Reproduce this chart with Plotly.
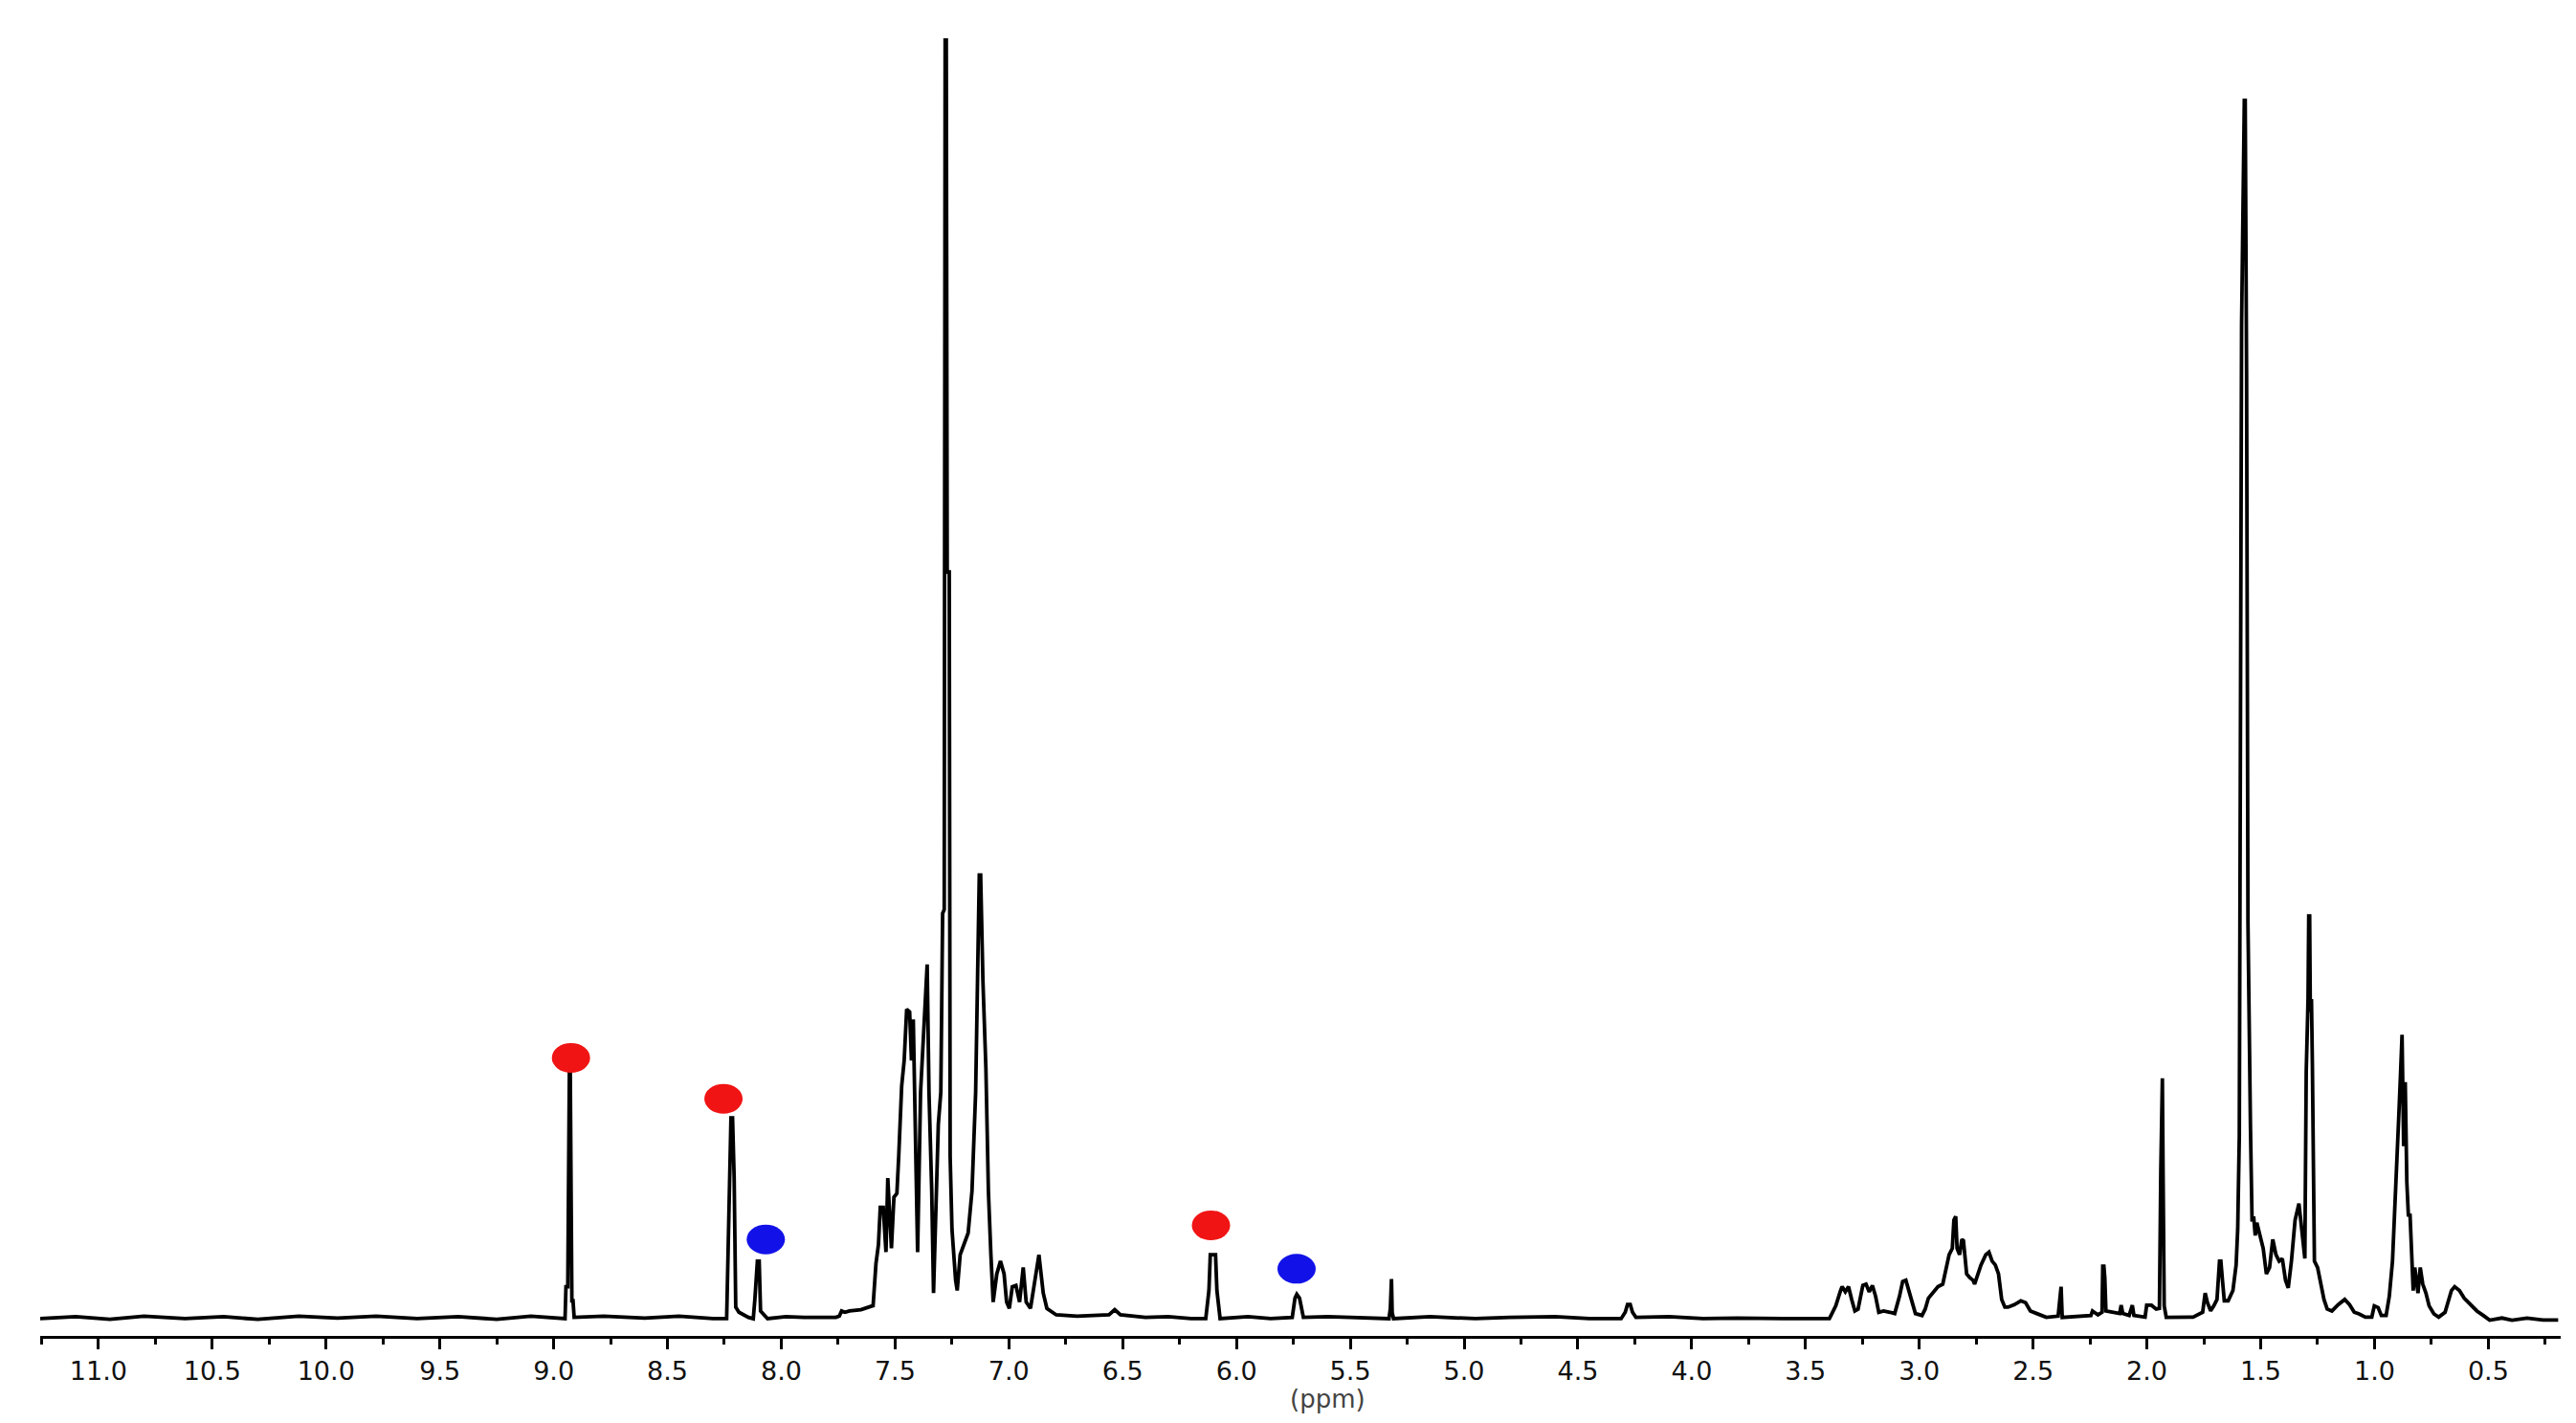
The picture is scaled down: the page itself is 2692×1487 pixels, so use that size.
import plotly.graph_objects as go

# 1H NMR trace: chemical shift (ppm) and relative intensity (%)
# high-field end of each region follows on from the previous one
low_field_ppm = [11.256, 11.10, 10.95, 10.80, 10.62, 10.45, 10.30, 10.12, 9.95,
                 9.78, 9.60, 9.42, 9.25, 9.10, 8.950, 8.946, 8.938, 8.935,
                 8.931, 8.927, 8.924, 8.920, 8.915, 8.910, 8.78, 8.60, 8.45,
                 8.30, 8.240, 8.231, 8.221, 8.214, 8.207, 8.200, 8.186, 8.144,
                 8.123, 8.116, 8.105, 8.097, 8.091, 8.060, 7.98, 7.90, 7.760,
                 7.745, 7.735, 7.720, 7.700, 7.650]
low_field_int = [0.0, 0.15, -0.05, 0.2, 0.0, 0.15, -0.05, 0.2, 0.05,
                 0.2, 0.0, 0.15, -0.05, 0.2, 0.0, 2.5, 2.5, 11.7,
                 19.2, 19.2, 11.7, 1.4, 1.4, 0.1, 0.2, 0.05, 0.2,
                 0.0, 0.0, 8.2, 15.7, 15.7, 11.0, 0.9, 0.5, 0.1,
                 0.0, 1.5, 4.5, 4.5, 0.6, 0.0, 0.15, 0.1, 0.1,
                 0.2, 0.6, 0.5, 0.6, 0.7]

aromatic_ppm = [7.600, 7.597, 7.584, 7.573, 7.565, 7.552, 7.540, 7.532, 7.524,
                7.516, 7.505, 7.492, 7.484, 7.471, 7.460, 7.449, 7.436, 7.428,
                7.420, 7.412, 7.401, 7.388, 7.372, 7.359, 7.351, 7.339, 7.331,
                7.320, 7.310, 7.299, 7.291, 7.284, 7.280, 7.275, 7.271, 7.262,
                7.258, 7.250, 7.243, 7.234, 7.227, 7.214, 7.179, 7.162, 7.146,
                7.138, 7.130, 7.124, 7.114, 7.101, 7.090, 7.079, 7.069, 7.053,
                7.037, 7.021, 7.010, 6.998, 6.985, 6.969, 6.953, 6.937, 6.924,
                6.905, 6.889, 6.868, 6.849, 6.833, 6.792, 6.700, 6.560, 6.535,
                6.510, 6.400, 6.300, 6.200]
aromatic_int = [1.0, 0.9, 4.3, 5.8, 8.7, 8.7, 5.2, 11.0, 7.5,
                5.5, 9.5, 9.8, 12.7, 18.2, 20.2, 24.2, 24.0, 20.2,
                23.4, 15.2, 5.2, 17.7, 23.0, 27.7, 17.7, 10.0, 2.0,
                10.0, 15.2, 17.7, 31.7, 32.0, 100.0, 100.0, 58.4, 58.4,
                12.7, 7.0, 5.0, 3.0, 2.2, 5.0, 6.7, 10.0, 17.7,
                26.4, 34.7, 34.7, 26.4, 19.6, 10.0, 5.0, 1.3, 3.5,
                4.5, 3.5, 1.3, 0.8, 2.5, 2.6, 1.3, 4.0, 1.3,
                0.8, 2.5, 5.0, 2.0, 0.8, 0.3, 0.2, 0.3, 0.7,
                0.3, 0.1, 0.15, 0.0]

olefin_ppm = [6.135, 6.121, 6.115, 6.092, 6.086, 6.072, 5.95, 5.85, 5.755,
              5.743, 5.735, 5.723, 5.706, 5.60, 5.500, 5.330, 5.324, 5.322,
              5.319, 5.316, 5.310, 5.15, 4.95, 4.80, 4.60, 4.45, 4.310,
              4.292, 4.282, 4.270, 4.260, 4.245, 4.10, 3.95, 3.800, 3.60]
olefin_int = [0.0, 2.2, 5.0, 5.0, 2.2, 0.0, 0.15, 0.0, 0.1,
              1.6, 1.9, 1.6, 0.1, 0.15, 0.1, 0.0, 0.8, 3.1,
              3.1, 0.5, 0.0, 0.15, 0.0, 0.1, 0.15, 0.0, 0.0,
              0.5, 1.1, 1.1, 0.5, 0.1, 0.15, 0.0, 0.05, 0.0]

mid_field_ppm = [3.395, 3.388, 3.367, 3.346, 3.339, 3.325, 3.311, 3.297, 3.283,
                 3.269, 3.248, 3.234, 3.220, 3.206, 3.192, 3.178, 3.157, 3.129,
                 3.108, 3.087, 3.073, 3.059, 3.045, 3.031, 3.017, 2.988, 2.974,
                 2.960, 2.939, 2.918, 2.897, 2.883, 2.869, 2.855, 2.848, 2.840,
                 2.834, 2.823, 2.813, 2.806, 2.792, 2.778, 2.764, 2.757, 2.743,
                 2.729, 2.708, 2.694, 2.680, 2.666, 2.652, 2.638, 2.624, 2.610,
                 2.582, 2.554, 2.533, 2.512, 2.484, 2.442, 2.390, 2.381, 2.377,
                 2.372, 2.246, 2.239, 2.215, 2.197, 2.194, 2.189, 2.185, 2.180,
                 2.148, 2.120, 2.113, 2.106, 2.078, 2.064, 2.057, 2.008, 2.001,
                 1.980, 1.959, 1.945, 1.939, 1.936, 1.932, 1.929, 1.924, 1.915]
mid_field_int = [0.0, 0.25, 1.0, 2.2, 2.5, 2.1, 2.5, 1.5, 0.6,
                 0.75, 2.6, 2.7, 2.1, 2.6, 1.75, 0.5, 0.6, 0.5,
                 0.4, 1.75, 2.9, 3.0, 2.2, 1.25, 0.4, 0.25, 0.75,
                 1.6, 2.0, 2.5, 2.7, 4.0, 5.0, 5.5, 7.7, 8.0,
                 5.5, 5.0, 6.2, 6.1, 3.5, 3.2, 3.0, 2.7, 3.5,
                 4.2, 5.0, 5.2, 4.5, 4.2, 3.5, 1.5, 0.9, 0.9,
                 1.1, 1.4, 1.25, 0.6, 0.4, 0.1, 0.2, 2.5, 2.5,
                 0.1, 0.25, 0.6, 0.3, 0.5, 4.1, 4.1, 3.2, 0.6,
                 0.5, 0.4, 1.05, 0.4, 0.25, 1.05, 0.25, 0.12, 1.05,
                 1.05, 0.75, 0.8, 11.5, 18.8, 18.8, 11.5, 1.0, 0.1]

aliphatic_ppm = [1.797, 1.755, 1.744, 1.734, 1.720, 1.706, 1.692, 1.681, 1.675,
                 1.668, 1.660, 1.643, 1.622, 1.608, 1.601, 1.594, 1.590, 1.584,
                 1.572, 1.568, 1.562, 1.556, 1.545, 1.538, 1.531, 1.524, 1.517,
                 1.503, 1.489, 1.475, 1.461, 1.447, 1.433, 1.419, 1.405, 1.391,
                 1.379, 1.365, 1.349, 1.332, 1.321, 1.306, 1.300, 1.292, 1.289,
                 1.285, 1.282, 1.277, 1.273, 1.268, 1.264, 1.250, 1.236, 1.222,
                 1.208, 1.187, 1.159, 1.131, 1.110, 1.089, 1.068, 1.040, 1.012,
                 1.001, 0.984, 0.970, 0.949, 0.935, 0.921, 0.911, 0.903, 0.893,
                 0.886, 0.879, 0.872, 0.865, 0.858, 0.851, 0.844, 0.837, 0.830,
                 0.823, 0.809, 0.799, 0.788, 0.774, 0.760, 0.739, 0.718, 0.690,
                 0.662, 0.648, 0.627, 0.606, 0.578, 0.550, 0.522, 0.494, 0.44,
                 0.396, 0.33, 0.26, 0.193]
aliphatic_int = [0.12, 0.5, 2.0, 1.25, 0.62, 1.0, 1.5, 4.5, 4.5,
                 3.0, 1.4, 1.4, 2.2, 4.2, 7.0, 14.3, 36.0, 77.8,
                 95.3, 95.3, 73.8, 31.0, 15.0, 7.6, 8.0, 6.5, 7.5,
                 6.5, 5.5, 3.5, 4.0, 6.2, 5.0, 4.5, 4.7, 3.0,
                 2.4, 4.5, 7.7, 9.0, 7.0, 4.7, 19.3, 25.0, 31.5,
                 31.5, 24.0, 25.0, 20.0, 6.0, 4.5, 4.0, 2.7, 1.5,
                 0.75, 0.6, 1.1, 1.5, 1.1, 0.5, 0.37, 0.12, 0.12,
                 1.0, 0.87, 0.25, 0.25, 1.75, 4.5, 9.0, 13.2, 16.0,
                 19.0, 22.2, 13.5, 18.5, 10.7, 8.0, 8.2, 4.0, 2.2,
                 4.0, 2.0, 4.0, 2.7, 2.0, 1.0, 0.37, 0.12, 0.5,
                 2.2, 2.5, 2.2, 1.6, 1.1, 0.6, 0.25, -0.12, 0.05,
                 -0.12, 0.05, -0.1, -0.1]

# coloured markers placed over the assigned signals
red_ppm = [8.924, 8.254, 6.112]
red_int = [20.4, 17.2, 7.3]
blue_ppm = [8.068, 5.736]
blue_int = [6.2, 3.9]

tick_values = [11.0, 10.5, 10.0, 9.5, 9.0, 8.5, 8.0, 7.5, 7.0, 6.5, 6.0,
               5.5, 5.0, 4.5, 4.0, 3.5, 3.0, 2.5, 2.0, 1.5, 1.0, 0.5]
tick_labels = ["11.0", "10.5", "10.0", "9.5", "9.0", "8.5", "8.0", "7.5",
               "7.0", "6.5", "6.0", "5.5", "5.0", "4.5", "4.0", "3.5",
               "3.0", "2.5", "2.0", "1.5", "1.0", "0.5"]

ppm = low_field_ppm + aromatic_ppm + olefin_ppm + mid_field_ppm + aliphatic_ppm
intensity = low_field_int + aromatic_int + olefin_int + mid_field_int + aliphatic_int

fig = go.Figure()
fig.add_trace(go.Scatter(
    x=ppm, y=intensity, mode="lines",
    line=dict(color="black", width=3.8),
    hoverinfo="skip", showlegend=False,
))

shapes = []
for xs, ys, colour in [(red_ppm, red_int, "#f01414"), (blue_ppm, blue_int, "#1212e8")]:
    for px, py in zip(xs, ys):
        shapes.append(dict(
            type="circle", xref="x", yref="y",
            xsizemode="pixel", ysizemode="pixel",
            xanchor=px, yanchor=py,
            x0=-20, x1=20, y0=-15.5, y1=15.5,
            fillcolor=colour, line=dict(width=0),
        ))

fig.update_layout(
    width=2692,
    height=1487,
    margin=dict(l=34, r=24, t=30, b=99),
    paper_bgcolor="white",
    plot_bgcolor="white",
    shapes=shapes,
    font=dict(family="DejaVu Sans", color="#111111"),
    xaxis=dict(
        range=[11.256, 0.182],
        showgrid=False, zeroline=False,
        showline=True, linecolor="black", linewidth=3,
        ticks="outside", ticklen=11, tickwidth=3, tickcolor="black",
        tickmode="array", tickvals=tick_values, ticktext=tick_labels,
        tickfont=dict(size=27, family="DejaVu Sans", color="#111111"),
        minor=dict(tick0=0.25, dtick=0.5, ticks="outside", ticklen=6,
                   tickwidth=2.5, tickcolor="black"),
    ),
    yaxis=dict(range=[-1.35, 100.3], visible=False),
    annotations=[dict(
        text="(ppm)", xref="paper", yref="paper", x=0.511, y=-0.0486,
        xanchor="center", yanchor="middle", showarrow=False,
        font=dict(size=26, family="DejaVu Sans", color="#444444"),
    )],
)

fig.write_html("out.html")
